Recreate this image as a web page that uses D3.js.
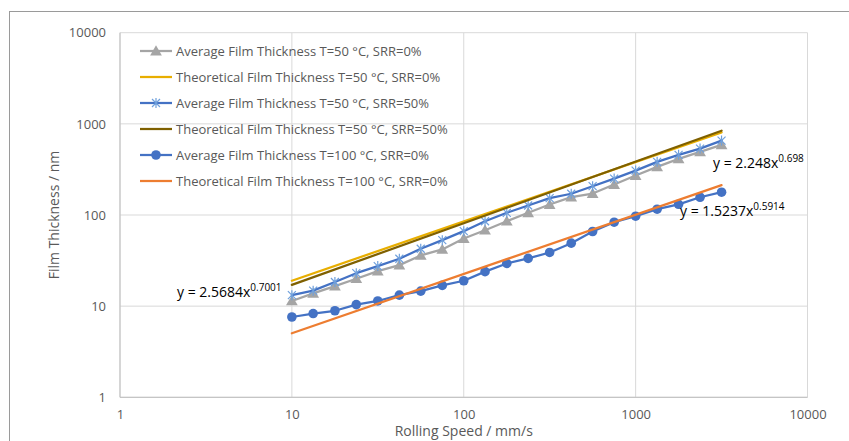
<!DOCTYPE html>
<html><head><meta charset="utf-8">
<script src="https://cdn.jsdelivr.net/npm/d3@7"></script>
<style>
html,body{margin:0;padding:0;background:#fff;}
svg{display:block;}
text{font-family:"Open Sans",sans-serif;}
</style></head>
<body>
<svg id="chart" width="849" height="441"></svg>
<script>
// Rolling speed (mm/s)
const speeds = [10, 13.3, 17.8, 23.7, 31.6, 42.2, 56.2, 75, 100, 133, 178, 237, 316, 422, 562, 750, 1000, 1334, 1778, 2371, 3162];
const avg50srr0   = [11.4, 13.8, 16.6, 20.0, 24.2, 28.2, 36.0, 41.9, 55.2, 68.1, 85.5, 105.7, 130.3, 157, 172, 216, 271, 337, 413, 493, 588];
const avg50srr50  = [13.2, 14.8, 18.4, 23.0, 27.5, 33.1, 42.6, 53.0, 66.5, 85.5, 105.7, 127, 153, 171, 207, 251, 307, 383, 457, 535, 655];
const avg100srr0  = [7.6, 8.3, 8.9, 10.4, 11.4, 13.2, 14.6, 16.9, 19.0, 23.9, 29.4, 33.4, 38.8, 49.1, 65.9, 83.4, 97, 115.8, 131, 156.6, 177.8];
const theoSpeeds  = [10, 3162];
const theo50srr0  = [19.0, 805];
const theo50srr50 = [17.1, 841];
const theo100srr0 = [5.04, 213];
const xTicks = [1, 10, 100, 1000, 10000];
const yTicks = [1, 10, 100, 1000, 10000];
const legendLabels = [
  "Average Film Thickness T=50 °C, SRR=0%",
  "Theoretical Film Thickness T=50 °C, SRR=0%",
  "Average Film Thickness T=50 °C, SRR=50%",
  "Theoretical Film Thickness T=50 °C, SRR=50%",
  "Average Film Thickness T=100 °C, SRR=0%",
  "Theoretical Film Thickness T=100 °C, SRR=0%"
];
const fits = [
  {base: "y = 2.5684x", exp: "0.7001"},
  {base: "y = 2.248x", exp: "0.698"},
  {base: "y = 1.5237x", exp: "0.5914"}
];

const series = [
  {name: legendLabels[0], xs: speeds, ys: avg50srr0, color: "#A5A5A5", marker: "triangle", mcolor: "#A5A5A5"},
  {name: legendLabels[1], xs: theoSpeeds, ys: theo50srr0, color: "#E8AE00", marker: null},
  {name: legendLabels[2], xs: speeds, ys: avg50srr50, color: "#4472C4", marker: "star", mcolor: "#6FA0DC"},
  {name: legendLabels[3], xs: theoSpeeds, ys: theo50srr50, color: "#7F6000", marker: null},
  {name: legendLabels[4], xs: speeds, ys: avg100srr0, color: "#4472C4", marker: "circle", mcolor: "#4472C4"},
  {name: legendLabels[5], xs: theoSpeeds, ys: theo100srr0, color: "#ED7D31", marker: null}
];

const svg = d3.select("#chart");
const L = 120, R = 807.5, T = 32.7, B = 397.3;
const x = d3.scaleLog().domain([1, 10000]).range([L, R]);
const y = d3.scaleLog().domain([1, 10000]).range([B, T]);

// outer chart border
svg.append("rect").attr("x", 9.5).attr("y", 11.5).attr("width", 900).attr("height", 500)
  .attr("fill", "none").attr("stroke", "#9a9a9a").attr("stroke-width", 1);

// gridlines
svg.append("g").selectAll("line").data(xTicks).join("line")
  .attr("x1", d => x(d)).attr("x2", d => x(d)).attr("y1", T).attr("y2", B)
  .attr("stroke", "#d9d9d9").attr("stroke-width", 1);
svg.append("g").selectAll("line").data(yTicks).join("line")
  .attr("x1", L).attr("x2", R).attr("y1", d => y(d)).attr("y2", d => y(d))
  .attr("stroke", "#d9d9d9").attr("stroke-width", 1);
// axis lines
svg.append("line").attr("x1", L).attr("x2", L).attr("y1", T).attr("y2", B).attr("stroke", "#bfbfbf");
svg.append("line").attr("x1", L).attr("x2", R).attr("y1", B).attr("y2", B).attr("stroke", "#bfbfbf");

// axes labels via d3 axes
const xAxis = d3.axisBottom(x).tickValues(xTicks).tickFormat(d3.format("d")).tickSize(0).tickPadding(12);
const gx = svg.append("g").attr("transform", `translate(0,${B})`).call(xAxis);
gx.select(".domain").remove();
gx.selectAll("text").attr("fill", "#595959").style("font-size", "13px").style("font-family", "Open Sans");
const yAxis = d3.axisLeft(y).tickValues(yTicks).tickFormat(d3.format("d")).tickSize(0).tickPadding(14);
const gy = svg.append("g").attr("transform", `translate(${L},0)`).call(yAxis);
gy.select(".domain").remove();
gy.selectAll("text").attr("fill", "#595959").style("font-size", "13px").style("font-family", "Open Sans");

// axis titles
svg.append("text").attr("x", (L + R) / 2).attr("y", 436).attr("text-anchor", "middle")
  .attr("fill", "#595959").style("font-size", "14px").text("Rolling Speed / mm/s");
svg.append("text").attr("transform", `translate(59,${(T + B) / 2}) rotate(-90)`).attr("text-anchor", "middle")
  .attr("fill", "#595959").style("font-size", "14px").text("Film Thickness / nm");

const line = d3.line().x(d => x(d[0])).y(d => y(d[1]));
const tri = d3.symbol().type(d3.symbolTriangle).size(60);
const star = "M-4,-4L4,4M-4,4L4,-4M0,-5L0,5";

function drawMarker(g, s, cx, cy) {
  if (s.marker === "triangle") {
    g.append("path").attr("d", tri()).attr("transform", `translate(${cx},${cy + 1})`).attr("fill", s.mcolor);
  } else if (s.marker === "circle") {
    g.append("circle").attr("cx", cx).attr("cy", cy).attr("r", 4.8).attr("fill", s.mcolor);
  } else if (s.marker === "star") {
    g.append("path").attr("d", star).attr("transform", `translate(${cx},${cy})`)
      .attr("stroke", s.mcolor).attr("stroke-width", 1.2).attr("fill", "none");
  }
}

series.forEach(s => {
  const pts = s.xs.map((v, i) => [v, s.ys[i]]);
  const g = svg.append("g");
  g.append("path").attr("d", line(pts)).attr("fill", "none").attr("stroke", s.color)
    .attr("stroke-width", 2.25).attr("stroke-linejoin", "round").attr("stroke-linecap", "round");
  if (s.marker) pts.forEach(p => drawMarker(g, s, x(p[0]), y(p[1])));
});

// legend
const lg = svg.append("g");
const rowsY = [51, 77, 103, 129, 155, 181];
series.forEach((s, i) => {
  const yy = rowsY[i];
  lg.append("line").attr("x1", 140).attr("x2", 172).attr("y1", yy).attr("y2", yy)
    .attr("stroke", s.color).attr("stroke-width", 2.25);
  if (s.marker) drawMarker(lg, s, 156, yy);
  lg.append("text").attr("x", 176).attr("y", yy + 4.8).attr("fill", "#595959")
    .style("font-size", "13px").text(s.name);
});

// trendline equation labels
const fitPos = [[177, 297], [713, 168], [680, 216]];
fits.forEach((f, i) => {
  const t = svg.append("text").attr("x", fitPos[i][0]).attr("y", fitPos[i][1]).attr("fill", "#000")
    .style("font-size", "14px");
  t.append("tspan").text(f.base);
  t.append("tspan").attr("dy", -6).style("font-size", "10px").text(f.exp);
});
</script>
</body></html>
